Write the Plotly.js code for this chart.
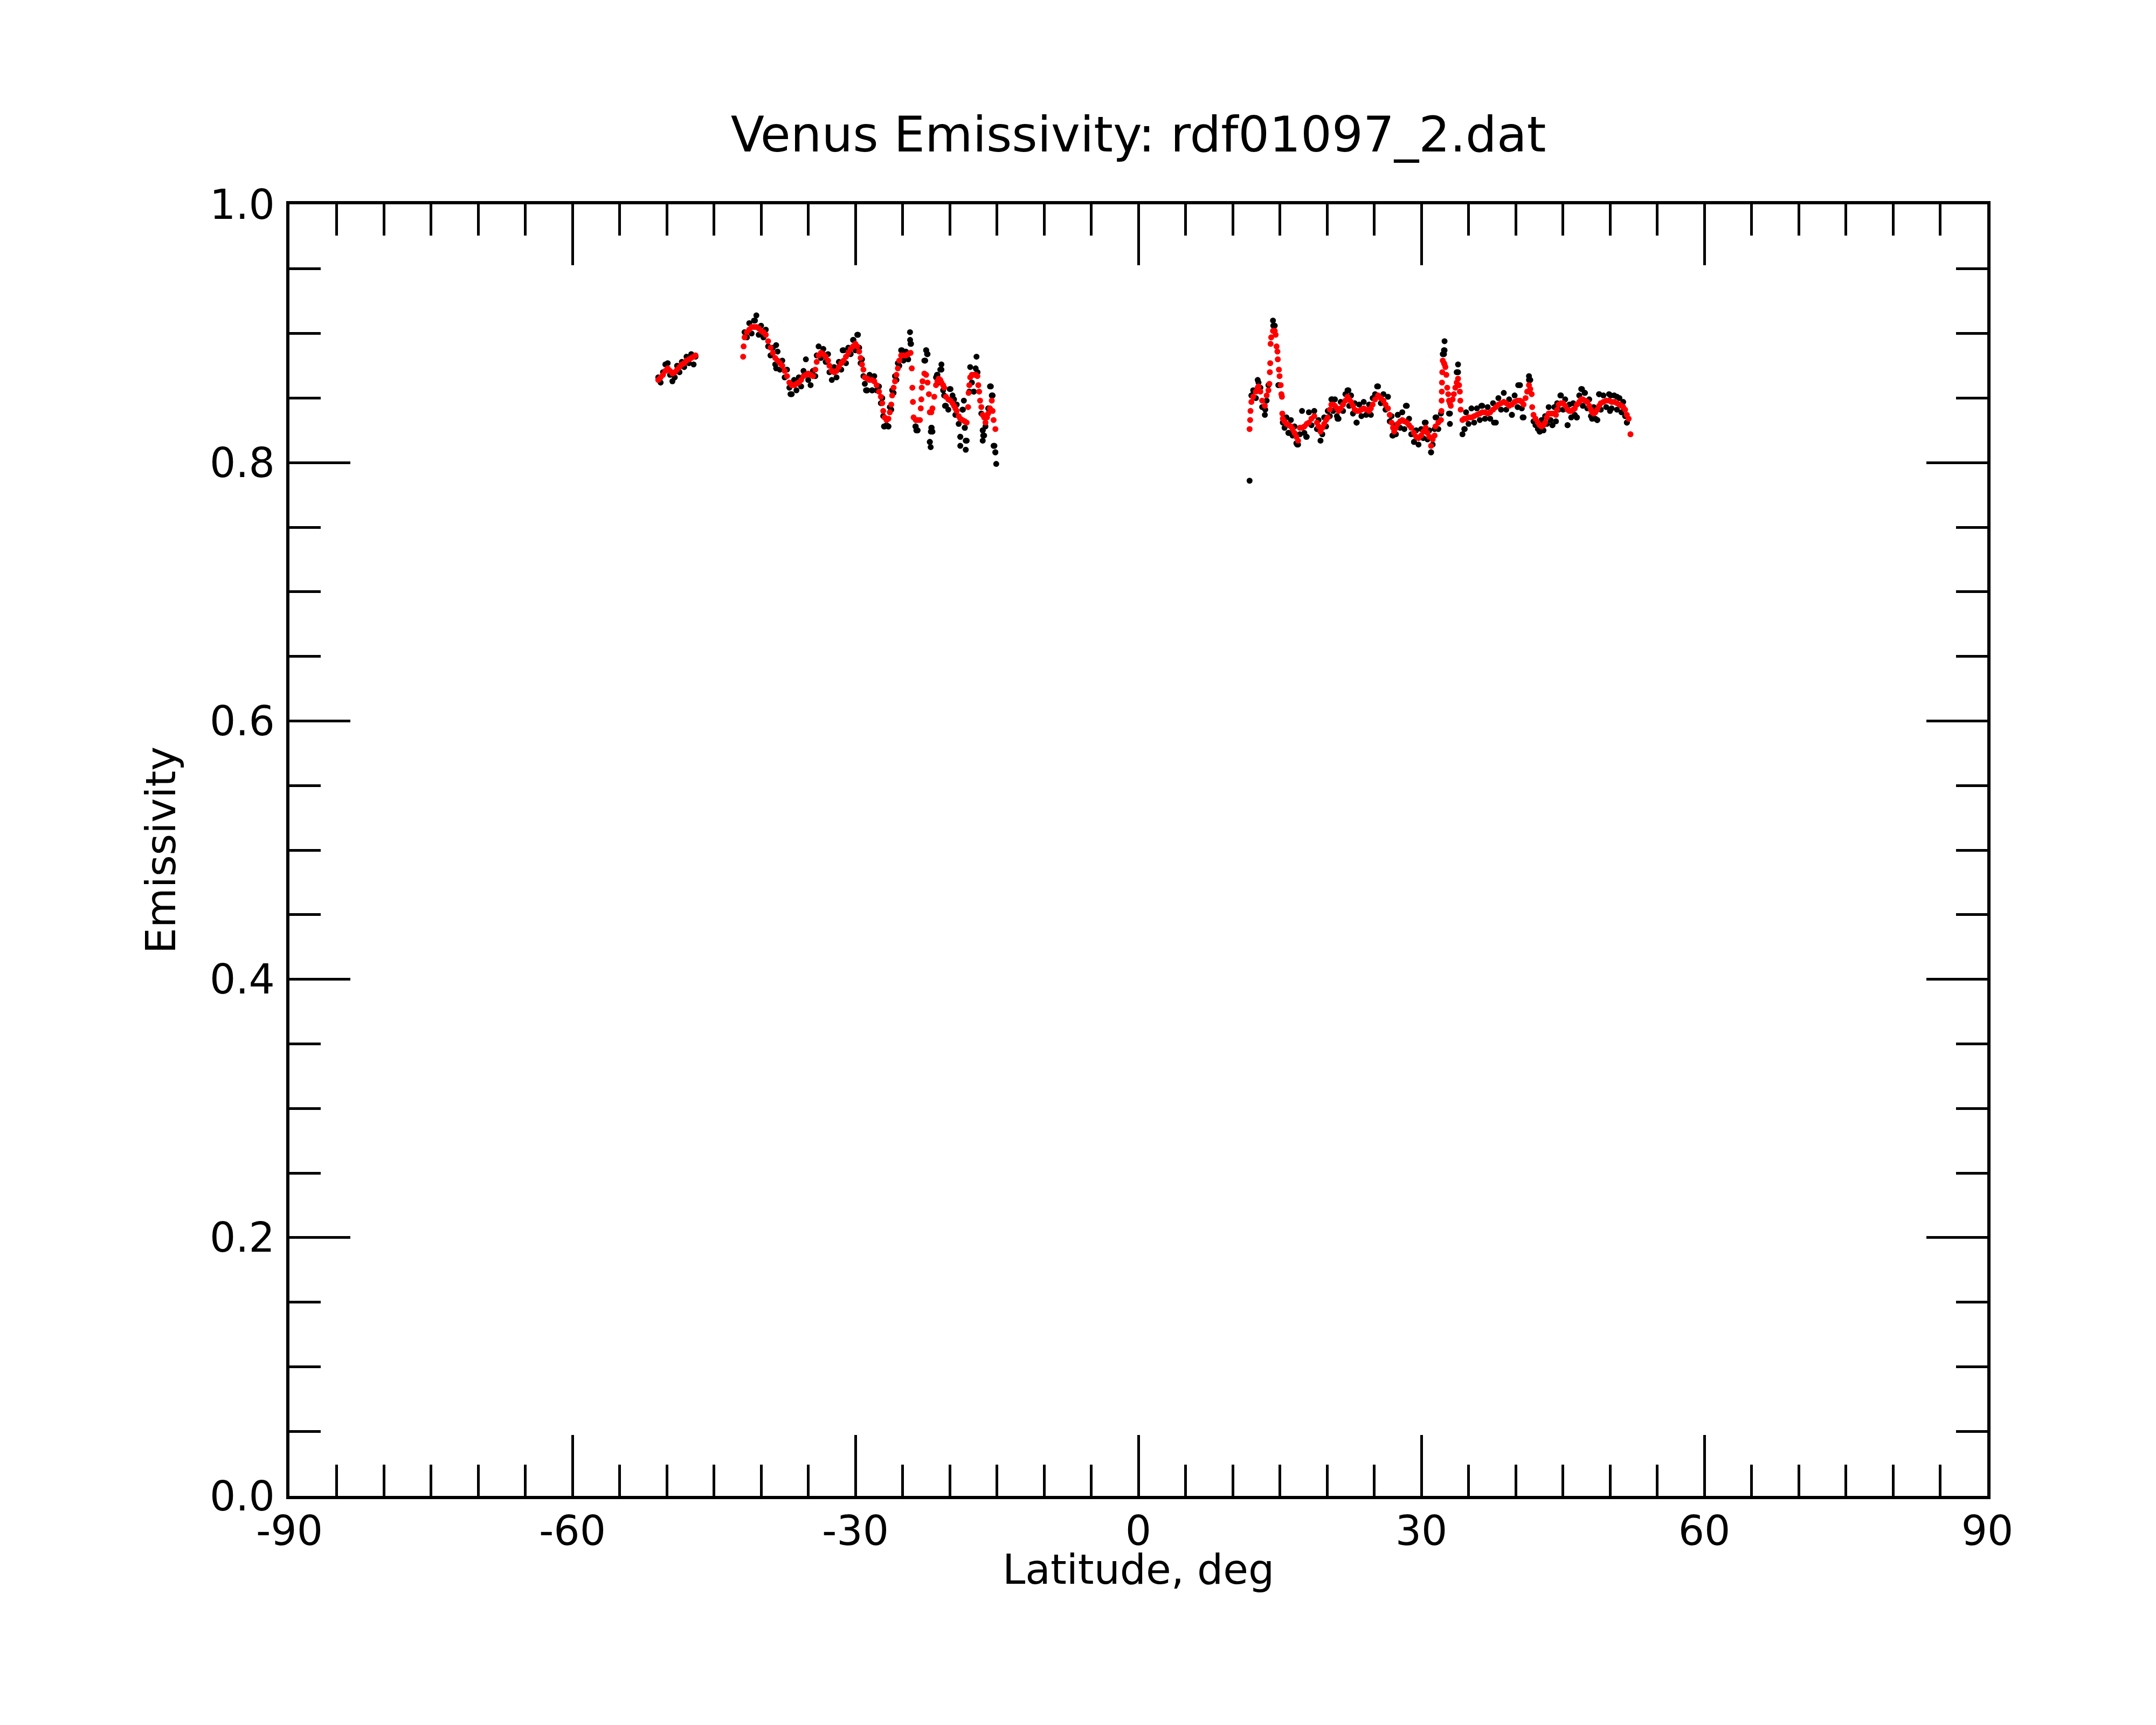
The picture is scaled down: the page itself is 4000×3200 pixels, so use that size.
<!DOCTYPE html>
<html>
<head>
<meta charset="utf-8">
<script src="https://cdn.plot.ly/plotly-3.0.1.min.js"></script>
<style>
  html, body { margin: 0; padding: 0; background: #fff; }
  #chart { width: 4000px; height: 3200px; }
</style>
</head>
<body>
<div id="chart"></div>
<script>
/* segment A: southern start of the track */
const latA = [-50.9,-50.65,-50.4,-50.15,-49.9,-49.65,-49.4,-49.15,-48.9,-48.65,-48.4,-48.15,-47.9,-47.65,-47.4,-47.15,-46.95];
const smoothA = [0.864,0.866,0.868,0.871,0.873,0.871,0.869,0.870,0.872,0.874,0.876,0.877,0.879,0.880,0.881,0.882,0.883];
const rawA = [0.866,0.862,0.870,0.876,0.877,0.868,0.863,0.866,0.875,0.870,0.878,0.874,0.882,0.877,0.884,0.876,0.882];

/* segment B */
const latB = [-41.9,-41.85,-41.75,-41.5,-41.25,-41.0,-40.75,-40.5,-40.25,-40.0,
  -39.75,-39.5,-39.25,-39.0,-38.75,-38.5,-38.25,-38.0,-37.75,-37.5,
  -37.25,-37.0,-36.75,-36.5,-36.25,-36.0,-35.75,-35.5,-35.25,-35.0,
  -34.75,-34.5,-34.25,-34.1,-33.9,-33.65,-33.4,-33.15,-32.9,-32.75,
  -32.5,-32.25,-32.0,-31.75,-31.5,-31.25,-31.0,-30.75,-30.5,-30.25,
  -30.0,-29.8,-29.6,-29.45,-29.3,-29.15,-29.0,-28.75,-28.5,-28.25,
  -28.0,-27.75,-27.5,-27.3,-27.15,-27.05,-26.9,-26.7,-26.5,-26.35,
  -26.2,-26.1,-25.95,-25.8,-25.65,-25.5,-25.35,-25.15,-24.9,-24.65,
  -24.4,-24.15,-24.02,-23.96,-23.9,-23.83,-23.6,-23.4,-23.16,-23.07,
  -23.01,-22.97,-22.88,-22.69,-22.5,-22.35,-22.21,-22.11,-21.95,-21.83,
  -21.64,-21.45,-21.3,-21.16,-21.0,-20.88,-20.7,-20.59,-20.4,-20.15,
  -19.92,-19.7,-19.54,-19.4,-19.26,-19.05,-18.88,-18.65,-18.4,-18.2,
  -18.05,-18.0,-17.92,-17.83,-17.65,-17.45,-17.25,-17.07,-16.97,-16.88,
  -16.78,-16.65,-16.5,-16.35,-16.21,-16.05,-15.92,-15.73,-15.54,-15.45,
  -15.35,-15.16];
const smoothB = [0.882,0.890,0.897,0.901,0.903,0.905,0.905,0.905,0.904,0.902,
  0.901,0.899,0.894,0.889,0.885,0.881,0.879,0.877,0.875,0.871,
  0.867,0.862,0.860,0.860,0.861,0.862,0.864,0.867,0.868,0.869,
  0.868,0.867,0.872,0.878,0.883,0.885,0.884,0.882,0.879,0.875,
  0.871,0.870,0.871,0.874,0.877,0.879,0.882,0.885,0.888,0.890,
  0.892,0.890,0.886,0.881,0.876,0.872,0.866,0.865,0.864,0.864,
  0.863,0.860,0.855,0.851,0.846,0.840,0.835,0.833,0.834,0.839,
  0.845,0.852,0.858,0.863,0.868,0.873,0.879,0.883,0.883,0.883,
  0.884,0.885,0.873,0.858,0.847,0.835,0.833,0.833,0.833,0.842,
  0.849,0.858,0.863,0.869,0.868,0.862,0.853,0.839,0.839,0.842,
  0.851,0.860,0.863,0.865,0.864,0.862,0.860,0.858,0.851,0.849,
  0.848,0.846,0.844,0.842,0.840,0.836,0.834,0.833,0.832,0.831,
  0.843,0.854,0.860,0.866,0.868,0.868,0.868,0.867,0.860,0.855,
  0.848,0.843,0.837,0.835,0.831,0.835,0.838,0.842,0.848,0.840,
  0.833,0.826];
const rawB = [null,null,0.901,0.897,0.908,0.900,0.910,0.914,0.899,0.906,
  0.897,0.903,0.890,0.883,0.889,0.876,0.886,0.872,0.879,0.866,
  0.872,0.858,0.853,0.864,0.856,0.866,0.859,0.871,0.880,0.864,
  0.860,0.871,0.867,0.883,0.890,0.881,0.888,0.878,0.884,0.870,
  0.864,0.874,0.866,0.878,0.872,0.887,0.877,0.889,0.884,0.895,
  0.887,0.899,0.889,0.877,0.880,0.867,0.861,0.856,0.868,0.856,
  0.867,0.856,0.859,0.846,0.850,0.836,0.828,0.829,0.828,0.843,
  0.841,0.856,0.854,0.867,0.864,0.877,0.875,0.887,0.879,0.886,
  0.880,0.892,null,null,null,null,0.828,0.825,null,null,
  null,null,null,0.879,0.887,0.884,null,0.816,0.827,0.824,
  null,0.866,0.868,0.862,0.872,0.876,0.856,0.852,0.844,0.841,
  0.857,0.852,0.849,0.837,0.845,0.830,0.820,0.841,0.827,0.817,
  null,null,0.855,0.874,0.862,0.855,0.873,0.870,null,null,
  null,0.838,0.825,0.821,0.828,null,0.842,0.859,0.852,null,
  0.813,0.808];

/* segment C: northern part of the track */
const latC = [11.79,11.85,11.89,11.98,12.17,12.46,12.65,12.74,12.93,13.12,
  13.41,13.6,13.79,13.89,13.94,13.98,14.02,14.08,14.27,14.46,
  14.55,14.65,14.74,14.78,14.9,14.97,15.09,15.16,15.22,15.26,
  15.31,15.5,15.7,15.95,16.17,16.35,16.55,16.75,16.93,17.12,
  17.35,17.6,17.85,18.08,18.35,18.65,18.93,19.1,19.31,19.5,
  19.7,19.9,20.08,20.3,20.46,20.65,20.84,21.05,21.22,21.45,
  21.7,21.95,22.17,22.35,22.55,22.75,22.93,23.15,23.41,23.65,
  23.89,24.15,24.46,24.65,24.84,25.1,25.41,25.7,25.98,26.2,
  26.46,26.65,26.84,27.0,27.12,27.3,27.5,27.75,27.98,28.2,
  28.46,28.7,28.93,29.22,29.45,29.7,29.98,30.2,30.46,30.65,
  30.84,31.03,31.2,31.41,31.5,31.8,32.08,32.13,32.15,32.17,
  32.19,32.22,32.27,32.4,32.46,32.55,32.65,32.74,32.85,32.93,
  33.03,33.12,33.32,33.45,33.6,33.75,33.89,34.0,34.08,34.13,
  34.17,34.36,34.55,34.74,35.0,35.31,35.6,35.89,36.2,36.46,
  36.75,37.03,37.3,37.6,37.9,38.17,38.45,38.74,39.0,39.31,
  39.6,39.89,40.2,40.46,40.65,40.84,41.05,41.22,41.41,41.55,
  41.7,41.75,41.89,42.1,42.36,42.55,42.74,42.95,43.12,43.3,
  43.5,43.7,43.89,44.1,44.27,44.4,44.55,44.8,45.03,45.25,
  45.5,45.7,45.89,46.1,46.27,46.5,46.74,46.95,47.12,47.35,
  47.6,47.8,47.98,48.1,48.27,48.45,48.65,48.85,49.03,49.3,
  49.6,49.9,50.17,50.45,50.74,51.0,51.22,51.4,51.6,51.79,
  51.98,52.17];
const smoothC = [0.826,0.833,0.840,0.847,0.851,0.855,0.858,0.859,0.855,0.848,
  0.844,0.852,0.856,0.861,0.870,0.877,0.892,0.897,0.902,0.902,
  0.899,0.890,0.886,0.880,0.872,0.867,0.860,0.853,0.851,0.838,
  0.834,0.832,0.830,0.829,0.828,0.826,0.823,0.820,0.817,0.827,
  0.827,0.828,0.830,0.831,0.834,0.836,0.831,0.828,0.824,0.827,
  0.830,0.833,0.835,0.841,0.845,0.845,0.844,0.842,0.840,0.842,
  0.845,0.848,0.851,0.849,0.847,0.844,0.841,0.840,0.840,0.841,
  0.842,0.841,0.840,0.842,0.845,0.849,0.852,0.850,0.848,0.845,
  0.842,0.837,0.831,0.827,0.824,0.827,0.830,0.832,0.833,0.832,
  0.831,0.829,0.827,0.823,0.820,0.819,0.821,0.824,0.827,0.823,
  0.820,0.813,0.818,0.821,0.828,0.831,0.833,0.840,0.848,0.855,
  0.862,0.870,0.879,0.877,0.876,0.874,0.868,0.858,0.853,0.848,
  0.846,0.844,0.849,0.853,0.858,0.862,0.865,0.860,0.855,0.848,
  0.841,0.833,0.834,0.834,0.835,0.835,0.836,0.837,0.838,0.839,
  0.839,0.838,0.839,0.841,0.843,0.845,0.846,0.847,0.846,0.844,
  0.845,0.847,0.848,0.848,0.847,0.845,0.850,0.855,0.860,0.857,
  0.853,0.843,0.837,0.834,0.831,0.829,0.828,0.829,0.831,0.835,
  0.838,0.838,0.838,0.838,0.837,0.841,0.845,0.846,0.846,0.844,
  0.841,0.840,0.840,0.841,0.842,0.845,0.847,0.849,0.849,0.848,
  0.847,0.844,0.841,0.839,0.838,0.839,0.841,0.844,0.846,0.847,
  0.848,0.848,0.847,0.847,0.846,0.845,0.844,0.843,0.841,0.837,
  0.834,0.822];
const rawC = [null,null,null,0.852,0.856,0.850,0.864,0.862,0.858,0.843,
  0.837,0.848,0.860,null,null,null,null,null,0.910,0.906,
  null,null,null,null,0.860,null,null,null,null,null,
  0.831,0.827,0.835,0.823,0.833,0.821,0.828,0.815,0.814,0.822,
  0.840,0.823,0.820,0.839,0.829,0.840,0.826,0.833,0.817,0.822,
  0.835,0.828,0.840,0.836,0.849,0.840,0.849,0.836,0.834,0.847,
  0.840,0.853,0.856,0.844,0.852,0.838,0.846,0.831,0.845,0.836,
  0.847,0.837,0.845,0.837,0.850,0.853,0.859,0.846,0.853,0.841,
  0.851,0.832,0.836,0.821,0.829,0.822,0.837,0.827,0.839,0.826,
  0.844,0.834,0.822,0.816,0.825,0.814,0.826,0.819,0.831,0.818,
  0.825,0.808,0.814,0.826,0.835,0.826,0.838,null,null,null,
  null,null,0.884,0.887,0.894,null,null,null,null,0.838,
  0.830,null,null,null,null,0.870,0.876,null,null,null,
  null,0.822,0.826,0.839,0.830,0.842,0.831,0.842,0.833,0.844,
  0.834,0.843,0.834,0.846,0.831,0.850,0.841,0.854,0.841,0.849,
  0.837,0.852,0.843,0.860,0.842,0.835,null,null,0.867,0.864,
  null,null,0.832,0.829,0.826,0.824,0.833,0.825,0.836,0.830,
  0.843,0.833,0.829,0.843,0.832,0.846,0.841,0.852,0.841,0.849,
  0.829,0.845,0.835,0.846,0.837,0.835,0.852,0.857,0.844,0.854,
  0.842,0.849,0.836,0.834,0.843,0.834,0.833,0.853,0.841,0.852,
  0.843,0.853,0.842,0.852,0.841,0.850,0.839,0.847,0.836,0.831,
  null,null];

/* stray raw samples that sit away from the smoothed curve */
const strayLat = [-40.65,-38.4,-38.4,-36.88,-31.35,-30.2,-29.73,-28.78,-28.2,-28.88,
  -26.97,-26.5,-25.07,-24.21,-24.2,-24.1,-23.64,-23.54,-22.6,-22.5,
  -22.4,-22.11,-22.02,-22.0,-21.92,-21.35,-20.88,-20.5,-20.0,-18.88,
  -18.88,-18.6,-18.5,-18.4,-18.3,-18.3,-17.45,-17.16,-17.06,-16.5,
  -16.5,-16.45,-15.64,-15.45,-15.26,-15.16,-15.07,
  11.79,13.45,14.3,14.84,15.9,16.84,17.79,20.55,21.12,22.27,
  23.12,25.31,26.93,27.5,28.36,29.22,30.36,31.03,31.6,32.4,
  32.46,33.03,33.89,34.6,36.36,37.7,39.6,40.27,40.74,41.41,
  42.55,43.9,44.74,45.5,46.46,47.03,47.3,48.65,48.84,50.0,
  50.08,50.74,51.79];
const strayEmis = [0.910,0.891,0.873,0.853,0.887,0.895,0.899,0.856,0.856,0.856,
  0.828,0.828,0.887,0.901,0.895,0.892,0.828,0.825,0.879,0.887,
  0.884,0.816,0.812,0.824,0.827,0.868,0.872,0.844,0.857,0.820,
  0.813,0.841,0.848,0.827,0.817,0.810,0.855,0.882,0.870,0.825,
  0.817,0.821,0.859,0.852,0.813,0.808,0.799,
  0.786,0.841,0.906,0.860,0.823,0.814,0.820,0.849,0.834,0.856,
  0.831,0.859,0.821,0.837,0.844,0.816,0.831,0.808,0.835,0.884,
  0.887,0.838,0.870,0.826,0.844,0.831,0.837,0.860,0.835,0.864,
  0.824,0.829,0.852,0.829,0.835,0.857,0.854,0.833,0.853,0.840,
  0.852,0.851,0.831];

const xTickVals = [-90, -60, -30, 0, 30, 60, 90];
const xTickText = ["-90", "-60", "-30", "0", "30", "60", "90"];
const yTickVals = [0.0, 0.2, 0.4, 0.6, 0.8, 1.0];
const yTickText = ["0.0", "0.2", "0.4", "0.6", "0.8", "1.0"];

const font = "DejaVu Sans";

const traces = [
  {
    name: "raw",
    x: latA.concat(latB, latC, strayLat),
    y: rawA.concat(rawB, rawC, strayEmis),
    type: "scatter",
    mode: "markers",
    marker: { color: "black", size: 11 },
  },
  {
    name: "smoothed",
    x: latA.concat(latB, latC),
    y: smoothA.concat(smoothB, smoothC),
    type: "scatter",
    mode: "markers",
    marker: { color: "red", size: 11 },
  },
];

const axisCommon = {
  showline: true,
  linecolor: "black",
  linewidth: 6,
  mirror: "allticks",
  showgrid: false,
  zeroline: false,
  ticks: "inside",
  ticklen: 113,
  tickwidth: 5,
  tickcolor: "black",
  tickfont: { family: font, size: 76, color: "black" },
};

const layout = {
  width: 4000,
  height: 3200,
  margin: { l: 537, r: 313, t: 379, b: 425 },
  paper_bgcolor: "white",
  plot_bgcolor: "white",
  showlegend: false,
  font: { family: font, color: "black" },
  title: {
    text: "Venus Emissivity: rdf01097_2.dat",
    font: { family: font, size: 91, color: "black" },
    x: 0.5,
    xref: "paper",
    y: 1 - 249 / 3200,
    yref: "container",
    yanchor: "middle",
  },
  xaxis: Object.assign({}, axisCommon, {
    range: [-90, 90],
    tickmode: "array",
    tickvals: xTickVals,
    ticktext: xTickText,
    ticklabelstandoff: -6,
    minor: { dtick: 5, ticks: "inside", ticklen: 58, tickwidth: 5, tickcolor: "black", showgrid: false },
  }),
  yaxis: Object.assign({}, axisCommon, {
    range: [0, 1],
    tickmode: "array",
    tickvals: yTickVals,
    ticktext: yTickText,
    ticklabelstandoff: 6,
    minor: { dtick: 0.05, ticks: "inside", ticklen: 58, tickwidth: 5, tickcolor: "black", showgrid: false },
    title: { text: "Emissivity", font: { family: font, size: 76, color: "black" }, standoff: 40 },
  }),
  annotations: [
    {
      // x-axis title placed as an annotation so it sits as close to the tick labels as in the original
      text: "Latitude, deg",
      xref: "paper",
      yref: "paper",
      x: 0.5,
      y: -0.057,
      xanchor: "center",
      yanchor: "middle",
      showarrow: false,
      font: { family: font, size: 76, color: "black" },
    },
  ],
};

Plotly.newPlot("chart", traces, layout, { staticPlot: true });
</script>
</body>
</html>
